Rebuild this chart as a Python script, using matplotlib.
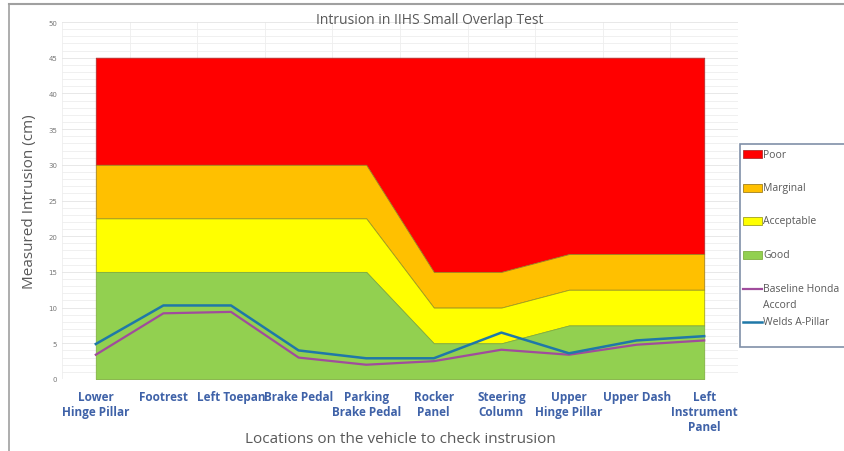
import matplotlib.pyplot as plt
import numpy as np
from matplotlib.lines import Line2D
from matplotlib.patches import Rectangle

# Dados
locations = ["Lower\nHinge Pillar", "Footrest", "Left Toepan", "Brake Pedal",
             "Parking\nBrake Pedal", "Rocker\nPanel", "Steering\nColumn",
             "Upper\nHinge Pillar", "Upper Dash", "Left\nInstrument\nPanel"]

good_top = [15, 15, 15, 15, 15, 5, 5, 7.5, 7.5, 7.5]
acceptable_top = [22.5, 22.5, 22.5, 22.5, 22.5, 10, 10, 12.5, 12.5, 12.5]
marginal_top = [30, 30, 30, 30, 30, 15, 15, 17.5, 17.5, 17.5]
poor_top = [45, 45, 45, 45, 45, 45, 45, 45, 45, 45]

baseline = [3.4, 9.2, 9.4, 3.0, 2.0, 2.5, 4.1, 3.4, 4.8, 5.4]
welds = [4.9, 10.3, 10.3, 4.0, 2.9, 2.9, 6.5, 3.6, 5.4, 6.0]

W, H = 845, 452
fig = plt.figure(figsize=(W/100, H/100), dpi=100)
ax = fig.add_axes([62/W, 1-380/H, (738-62)/W, (380-23)/H])

x = np.arange(len(locations))
zero = np.zeros(len(locations))

# Faixas
bands = [
    (marginal_top, poor_top, "#FF0000", "#B03030", "Poor"),
    (acceptable_top, marginal_top, "#FFC000", "#A08020", "Marginal"),
    (good_top, acceptable_top, "#FFFF00", "#A0A020", "Acceptable"),
    (zero, good_top, "#92D050", "#80B040", "Good"),
]
for lo, hi, c, ec, lab in bands:
    ax.fill_between(x, lo, hi, color=c, edgecolor=ec, lw=0.6, zorder=2)

series = [
    (baseline, "#A04C9C", 1.6, "Baseline Honda\nAccord"),
    (welds, "#1F78A8", 1.8, "Welds A-Pillar"),
]
for ys, c, lw, lab in series:
    ax.plot(x, ys, color=c, lw=lw, zorder=3)

ax.set_xlim(-0.5, 9.5)
ax.set_ylim(0, 50)
ax.set_yticks(np.arange(0, 51, 5))
ax.set_yticks(np.arange(0, 51, 1), minor=True)
ax.set_xticks(x)
ax.set_xticks(np.arange(-0.5, 9.6, 0.5), minor=True)
ax.set_xticklabels(locations, color="#3F62A8", fontweight="bold", fontsize=8.5, family="Open Sans")
ax.tick_params(axis="y", labelsize=5, colors="#777777", length=0, which="both")
ax.tick_params(axis="x", length=0, which="both", pad=8)

ax.grid(which="minor", color="#EEEEEE", lw=0.6, zorder=0)
ax.grid(which="major", axis="y", color="#E4E4E4", lw=0.6, zorder=0)
ax.grid(which="major", axis="x", visible=False)
ax.set_axisbelow(True)
for s in ax.spines.values():
    s.set_visible(False)

ax.set_ylabel("Measured Intrusion (cm)", fontsize=11, color="#595959", family="Open Sans", labelpad=8)
fig.text(400/W, 1-440/H, "Locations on the vehicle to check instrusion", ha="center", va="center",
         fontsize=11, color="#595959", family="Open Sans")
fig.text(430/W, 1-20/H, "Intrusion in IIHS Small Overlap Test", ha="center", va="center",
         fontsize=10, color="#595959", family="Open Sans")

# Legenda (desenhada à mão para imitar o espaçamento do Excel)
fig.add_artist(Rectangle((740/W, 1-348/H), 110/W, 203/H, transform=fig.transFigure,
                         facecolor="white", edgecolor="#8090A8", lw=1.2))
txt = dict(fontsize=7.5, color="#595959", family="Open Sans", va="center", ha="left")
rows = [155, 189, 222, 256]
for (lo, hi, c, ec, lab), yy in zip(bands, rows):
    fig.add_artist(Rectangle((743/W, 1-(yy+4)/H), 19/W, 8/H, transform=fig.transFigure,
                             facecolor=c, edgecolor=ec, lw=0.6))
    fig.text(763/W, 1-yy/H, lab, **txt)
for (ys, c, lw, lab), yy in zip(series, [290, 323]):
    fig.add_artist(Line2D([743/W, 762/W], [1-yy/H, 1-yy/H], color=c, lw=lw, transform=fig.transFigure))
    lines = lab.split("\n")
    for k, part in enumerate(lines):
        fig.text(763/W, 1-(yy+15*k)/H, part, **txt)

# Moldura
fig.add_artist(Line2D([9/W, 1], [1-5/H, 1-5/H], color="#A0A0A0", lw=1.5, transform=fig.transFigure))
fig.add_artist(Line2D([9/W, 9/W], [0, 1-5/H], color="#A0A0A0", lw=1.2, transform=fig.transFigure))

plt.savefig("out.png", dpi=100)
plt.close()
